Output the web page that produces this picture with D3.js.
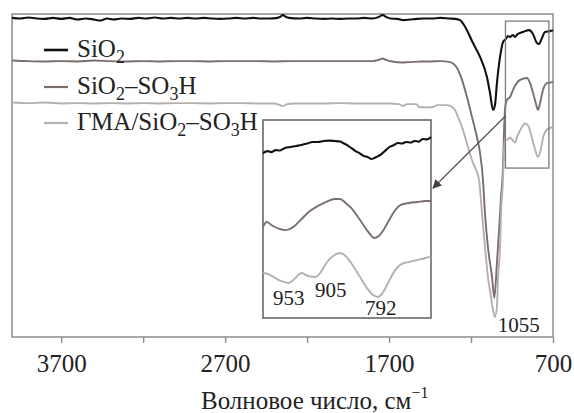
<!DOCTYPE html>
<html>
<head>
<meta charset="utf-8">
<script src="https://cdn.jsdelivr.net/npm/d3@7/dist/d3.min.js"></script>
<style>
  html, body { margin: 0; padding: 0; background: #fff; }
  svg { display: block; }
  text { font-family: "Liberation Serif", "Times New Roman", serif; fill: #222; }
</style>
</head>
<body>
<svg id="chart" width="574" height="413"></svg>
<script>
// IR spectra: wavenumber (cm-1) and relative transmittance (offset traces)
const seriesNames = ["SiO2", "SiO2–SO3H", "ГМА/SiO2–SO3H"];
const seriesColors = ["#111111", "#7b6e6b", "#b7afad"];

const wnSiO2 = [4000,3950,3900,3850,3800,3750,3700,3650,3600,3550,3500,3460,3420,3380,3330,3280,3230,3180,3130,3080,3030,2980,2930,2880,2830,2780,2730,2680,2630,2580,2530,2480,2430,2380,2362,2347,2332,2310,2250,2200,2150,2100,2050,2000,1950,1900,1850,1800,1762,1740,1718,1690,1650,1610,1570,1530,1490,1440,1389,1330,1298,1267,1243,1225,1188,1145,1103,1084,1066,1054,1042,1023,1005,987,975,962,945,932,915,901,885,871,846,822,798,785,767,749,718,700];
const tSiO2 = [98.8,98.6,98.9,98.6,98.5,98.8,98.5,98.8,98.3,98.6,98.3,98.0,98.6,98.3,98.6,98.5,98.8,98.6,98.9,98.6,98.8,98.6,98.8,98.6,98.8,98.6,98.5,98.6,98.8,98.6,98.8,98.6,98.6,98.8,99.2,99.7,99.2,98.8,98.6,98.8,98.6,98.5,98.6,98.5,98.6,98.6,98.8,98.6,99.1,99.7,99.1,98.6,98.5,98.1,98.3,98.5,98.6,98.6,98.8,98.6,98.5,98.1,96.6,95.0,91.0,86.7,80.5,75.5,70.3,71.8,78.6,86.7,91.3,92.3,93.2,92.9,93.5,92.9,93.8,94.1,94.4,94.7,95.0,93.8,91.0,90.7,92.6,94.4,94.7,95.0];

const wnSO3H = [4000,3900,3800,3700,3600,3500,3400,3300,3200,3100,3000,2900,2800,2700,2600,2500,2400,2300,2200,2100,2000,1900,1800,1762,1740,1718,1680,1620,1580,1500,1450,1389,1328,1298,1279,1255,1225,1194,1164,1145,1127,1115,1097,1072,1058,1042,1029,1017,1005,999,993,981,962,944,901,858,840,810,791,779,761,737,700];
const tSO3H = [85.6,85.4,85.3,85.4,85.3,85.6,85.4,85.3,85.4,85.3,85.4,85.4,85.3,85.4,85.4,85.4,85.3,85.4,85.4,85.4,85.4,85.4,85.4,85.8,86.2,85.8,85.3,85.0,85.1,85.3,85.3,85.4,85.1,84.2,82.7,79.6,74.3,68.1,61.9,57.0,48.6,38.4,27.9,18.6,12.1,22.9,33.1,43.3,52.6,63.2,70.3,73.4,74.3,76.5,79.6,80.2,78.6,73.4,70.3,72.4,76.5,78.6,78.9];

const wnGMA = [4000,3900,3800,3700,3600,3500,3400,3300,3200,3100,3000,2900,2800,2700,2600,2500,2400,2370,2347,2320,2280,2200,2100,2000,1900,1800,1700,1640,1615,1590,1535,1515,1470,1430,1407,1370,1347,1316,1298,1279,1249,1219,1188,1164,1151,1133,1115,1097,1078,1066,1055,1042,1036,1023,1017,1005,999,993,975,962,948,932,915,900,885,871,850,830,810,792,775,760,740,720,700];
const tGMA = [72.6,72.4,72.6,72.3,72.4,72.3,72.4,72.3,72.4,72.3,72.4,72.4,72.3,72.4,72.4,72.3,72.3,71.9,71.5,72.1,72.3,72.3,72.3,72.4,72.3,72.3,72.3,72.1,71.5,72.1,72.1,71.2,71.1,71.2,71.8,71.8,71.8,71.2,70.3,68.1,64.1,58.8,53.9,51.1,48.6,38.4,27.9,18.6,12.4,8.4,6.2,9.3,17.6,27.9,38.4,48.6,57.9,61.0,61.2,61.8,61.0,60.2,62.6,64.0,65.4,66.1,65.3,61.9,58.2,55.7,57.9,61.9,64.1,64.7,65.0];

// Enlarged 1000–700 cm-1 region (inset, own vertical scale)
const wnInSiO2 = [1000,992,985,977,970,960,950,940,930,920,910,900,890,880,870,860,855,848,840,832,825,817,810,803,798,792,785,777,770,762,755,748,740,732,725,717,710,702,695];
const tInSiO2 = [83.3,84.3,83.8,84.8,84.6,85.9,86.4,86.9,87.4,88.1,88.9,88.9,89.4,89.6,89.4,89.1,88.4,87.4,85.9,84.3,83.3,81.8,81.3,80.3,80.8,81.6,82.8,84.8,86.4,87.4,88.4,88.1,88.9,88.6,89.4,89.1,90.4,90.2,91.4];
const wnInSO3H = [1000,993,985,970,960,945,930,915,900,885,870,860,850,840,825,810,798,790,780,770,760,750,735,720,705,695];
const tInSO3H = [46.0,48.5,47.0,45.0,44.4,46.0,50.0,54.0,56.6,58.6,60.1,60.1,58.1,55.6,50.0,43.9,40.4,41.4,45.0,50.0,54.5,57.1,58.1,58.6,59.1,59.1];
const wnInGMA = [1000,990,975,963,953,943,930,918,905,895,885,870,860,850,840,825,810,800,792,783,772,760,748,735,720,705,695];
const tInGMA = [22.7,22.2,19.7,18.2,17.7,19.7,22.7,21.2,20.7,23.2,27.8,31.8,32.8,31.3,27.8,21.2,14.6,11.6,10.6,12.6,18.2,24.2,27.3,28.3,29.3,30.3,31.3];

const tickValues = [3700, 3200, 2700, 2200, 1700, 1200, 700];
const tickLabels = [3700, 2700, 1700, 700];
const peakLabels = [953, 905, 792];
const mainPeak = 1055;
const zoomRange = [990, 725];

const svg = d3.select("#chart");
const M = { left: 12, top: 14, right: 553, bottom: 337 };

const x = d3.scaleLinear().domain([4000, 700]).range([M.left, M.right]);
const y = d3.scaleLinear().domain([0, 100]).range([M.bottom, M.top]);

const zip = (a, b) => a.map((d, i) => [d, b[i]]);
const mainSeries = [zip(wnSiO2, tSiO2), zip(wnSO3H, tSO3H), zip(wnGMA, tGMA)];
const insetSeries = [zip(wnInSiO2, tInSiO2), zip(wnInSO3H, tInSO3H), zip(wnInGMA, tInGMA)];
const widths = [2.1, 1.9, 1.9];

// frame
svg.append("rect")
  .attr("x", M.left).attr("y", M.top)
  .attr("width", M.right - M.left).attr("height", M.bottom - M.top)
  .attr("fill", "none").attr("stroke", "#8c8c8c").attr("stroke-width", 1.5);

// bottom axis
const axis = d3.axisBottom(x)
  .tickValues(tickValues)
  .tickFormat(d => tickLabels.includes(d) ? d : "")
  .tickSize(6).tickPadding(11);
const ax = svg.append("g").attr("transform", `translate(0,${M.bottom})`).call(axis);
ax.select(".domain").remove();
ax.selectAll(".tick line").attr("stroke", "#8c8c8c").attr("stroke-width", 1.4);
ax.selectAll(".tick text")
  .filter(d => !tickLabels.includes(d)).remove();
ax.selectAll(".tick text")
  .attr("fill", "#222").style("font-size", "25px")
  .style("font-family", "'Liberation Serif', serif");

// axis title
const title = svg.append("text").attr("x", 201).attr("y", 409).style("font-size", "25px");
title.append("tspan").text("Волновое число, см");
title.append("tspan").attr("dy", -11).style("font-size", "16px").text("−1");

// spectra
const line = d3.line().x(d => x(d[0])).y(d => y(d[1])).curve(d3.curveMonotoneX);
mainSeries.forEach((s, i) => {
  svg.append("path").datum(s)
    .attr("d", line).attr("fill", "none")
    .attr("stroke", seriesColors[i]).attr("stroke-width", widths[i])
    .attr("stroke-linejoin", "round");
});

// highlighted region
svg.append("rect")
  .attr("x", x(zoomRange[0])).attr("y", y(97.8))
  .attr("width", x(zoomRange[1]) - x(zoomRange[0]))
  .attr("height", y(52.3) - y(97.8))
  .attr("fill", "none").attr("stroke", "#7a7a7a").attr("stroke-width", 1.3);

// peak label
svg.append("text").attr("x", x(mainPeak) + 3).attr("y", 332)
  .style("font-size", "21px").text(mainPeak);

// legend: formulas with subscript digits
const legY = [50, 87, 123];
const legend = svg.append("g");
seriesNames.forEach((name, i) => {
  legend.append("line")
    .attr("x1", 44).attr("x2", 68).attr("y1", legY[i]).attr("y2", legY[i])
    .attr("stroke", seriesColors[i]).attr("stroke-width", i === 0 ? 2.6 : 2.2);
  const t = legend.append("text").attr("x", 77).attr("y", legY[i] + 7).style("font-size", "25px");
  const parts = name.match(/[^0-9]+|[0-9]+/g);
  let shift = 0;
  parts.forEach(p => {
    const sub = /^[0-9]+$/.test(p);
    const dy = (sub ? 6 : 0) - shift;
    shift = sub ? 6 : 0;
    const ts = t.append("tspan").attr("dy", dy).text(p);
    if (sub) ts.style("font-size", "18px");
  });
});

// inset
const I = { left: 263, top: 120, right: 431, bottom: 318 };
const xi = d3.scaleLinear().domain([1000, 695]).range([I.left, I.right]);
const yi = d3.scaleLinear().domain([0, 100]).range([I.bottom, I.top]);
svg.append("rect")
  .attr("x", I.left).attr("y", I.top)
  .attr("width", I.right - I.left).attr("height", I.bottom - I.top)
  .attr("fill", "#fff").attr("stroke", "#5e5e5e").attr("stroke-width", 1.5);
const lineI = d3.line().x(d => xi(d[0])).y(d => yi(d[1])).curve(d3.curveMonotoneX);
insetSeries.forEach((s, i) => {
  svg.append("path").datum(s)
    .attr("d", lineI).attr("fill", "none")
    .attr("stroke", seriesColors[i]).attr("stroke-width", widths[i])
    .attr("stroke-linejoin", "round");
});
const peakPos = [[273, 305], [315, 297], [365, 315]];
peakLabels.forEach((p, i) => {
  svg.append("text").attr("x", peakPos[i][0]).attr("y", peakPos[i][1])
    .style("font-size", "21px").text(p);
});

// arrow from highlighted region to inset
svg.append("defs").append("marker")
  .attr("id", "arrow").attr("viewBox", "0 0 10 10")
  .attr("refX", 9).attr("refY", 5)
  .attr("markerWidth", 9).attr("markerHeight", 9)
  .attr("markerUnits", "userSpaceOnUse")
  .attr("orient", "auto")
  .append("path").attr("d", "M0,0 L10,5 L0,10 Z").attr("fill", "#4a3f3d");
svg.append("line")
  .attr("x1", x(zoomRange[0])).attr("y1", 116)
  .attr("x2", I.right + 2).attr("y2", 188)
  .attr("stroke", "#5a4e4b").attr("stroke-width", 1.2)
  .attr("marker-end", "url(#arrow)");
</script>
</body>
</html>
